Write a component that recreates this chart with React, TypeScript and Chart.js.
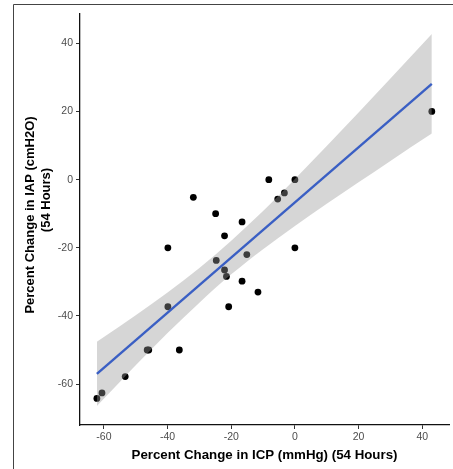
import { useEffect, useRef } from 'react';
import { Chart, registerables } from 'chart.js';

Chart.register(...registerables);

// Observed points: percent change in ICP (x) vs percent change in IAP (y)
const icpChange = [-62.2, -60.6, -53.3, -46.4, -45.9, -39.9, -39.9, -36.3, -31.9, -24.9, -24.7, -22.1, -22.1, -21.5, -20.8, -16.6, -16.6, -15.1, -11.6, -8.2, -5.4, -3.3, 0, 0, 43];
const iapChange = [-64.2, -62.6, -57.8, -50, -50, -37.3, -20, -50, -5.2, -10, -23.7, -16.5, -26.5, -28.4, -37.3, -12.4, -29.8, -22.0, -33.0, 0, -5.7, -3.9, 0, -20, 20];

// Fitted regression line end points
const fitX = [-62.2, 43];
const fitY = [-57.0, 28.1];

// Confidence band
const bandX = [-62.2, -55, -50, -40, -30, -20, -10, 0, 10, 20, 30, 43];
const bandUpper = [-47.6, -43.0, -39.8, -33.1, -25.9, -17.9, -9.2, 0.2, 9.9, 19.7, 29.7, 42.7];
const bandLower = [-66.4, -59.4, -54.5, -45.0, -36.1, -27.8, -20.4, -13.6, -7.1, -0.8, 5.5, 13.5];

const xTicks = [-60, -40, -20, 0, 20, 40];
const yTicks = [-60, -40, -20, 0, 20, 40];

const xTitle = 'Percent Change in ICP (mmHg) (54 Hours)';
const yTitleLines = ['Percent Change in IAP (cmH2O)', '(54 Hours)'];

const FONT = '"Liberation Sans", Arial, Helvetica, sans-serif';

export default function App() {
  const ref = useRef<HTMLCanvasElement | null>(null);

  useEffect(() => {
    document.body.style.margin = '0';
    const canvas = ref.current;
    if (!canvas) return;

    const decor = {
      id: 'decor',
      beforeDraw(chart: any) {
        const ctx = chart.ctx;
        ctx.save();
        ctx.fillStyle = '#ffffff';
        ctx.fillRect(0, 0, chart.width, chart.height);
        ctx.strokeStyle = '#444444';
        ctx.lineWidth = 1;
        ctx.beginPath();
        ctx.moveTo(13.5, chart.height);
        ctx.lineTo(13.5, 4.5);
        ctx.lineTo(chart.width, 4.5);
        ctx.stroke();
        ctx.restore();
      },
      afterDraw(chart: any) {
        const ctx = chart.ctx;
        ctx.save();
        ctx.fillStyle = '#000000';
        ctx.font = `bold 13px ${FONT}`;
        ctx.textAlign = 'center';
        ctx.textBaseline = 'middle';
        ctx.translate(30, 215);
        ctx.rotate(-Math.PI / 2);
        ctx.fillText(yTitleLines[0], 0, 0);
        ctx.restore();
        ctx.save();
        ctx.fillStyle = '#000000';
        ctx.font = `bold 13px ${FONT}`;
        ctx.textAlign = 'center';
        ctx.textBaseline = 'middle';
        ctx.translate(46, 200);
        ctx.rotate(-Math.PI / 2);
        ctx.fillText(yTitleLines[1], 0, 0);
        ctx.restore();
      },
    };

    const points = icpChange.map((x, i) => ({ x, y: iapChange[i] }));
    const fit = fitX.map((x, i) => ({ x, y: fitY[i] }));
    const upper = bandX.map((x, i) => ({ x, y: bandUpper[i] }));
    const lower = bandX.map((x, i) => ({ x, y: bandLower[i] }));

    const chart = new Chart(canvas, {
      type: 'scatter',
      data: {
        datasets: [
          {
            type: 'scatter',
            data: points,
            backgroundColor: '#000000',
            borderWidth: 0,
            pointRadius: 3.4,
            order: 3,
          },
          {
            type: 'line',
            data: upper,
            showLine: true,
            borderWidth: 0,
            borderColor: 'rgba(0,0,0,0)',
            pointRadius: 0,
            fill: '+1',
            backgroundColor: 'rgba(153,153,153,0.4)',
            cubicInterpolationMode: 'monotone',
            order: 2,
          },
          {
            type: 'line',
            data: lower,
            showLine: true,
            borderWidth: 0,
            borderColor: 'rgba(0,0,0,0)',
            pointRadius: 0,
            fill: false,
            cubicInterpolationMode: 'monotone',
            order: 2,
          },
          {
            type: 'line',
            data: fit,
            showLine: true,
            borderColor: '#3a5fc4',
            borderWidth: 2.4,
            pointRadius: 0,
            fill: false,
            order: 1,
          },
        ],
      } as any,
      options: {
        responsive: false,
        animation: false,
        devicePixelRatio: 1,
        layout: { padding: { top: 14, right: 1, left: 0, bottom: 0 } },
        plugins: {
          legend: { display: false },
          tooltip: { enabled: false },
        },
        scales: {
          x: {
            type: 'linear',
            min: -67.5,
            max: 48.4,
            afterBuildTicks: (scale: any) => {
              scale.ticks = xTicks.map((v) => ({ value: v }));
            },
            afterFit: (scale: any) => {
              scale.height = 44;
            },
            grid: {
              display: true,
              drawOnChartArea: false,
              drawTicks: true,
              tickLength: 4,
              color: '#333333',
              lineWidth: 1,
            },
            border: { display: true, color: '#111111', width: 1.3 },
            ticks: {
              color: '#4d4d4d',
              font: { family: FONT, size: 10.5 },
              padding: 2,
              maxRotation: 0,
            },
            title: {
              display: true,
              text: xTitle,
              color: '#000000',
              font: { family: FONT, size: 13.3, weight: 'bold' },
              padding: { top: 0, bottom: 6 },
            },
          },
          y: {
            type: 'linear',
            min: -72,
            max: 48.6,
            afterBuildTicks: (scale: any) => {
              scale.ticks = yTicks.map((v) => ({ value: v }));
            },
            afterFit: (scale: any) => {
              scale.width = 80;
            },
            grid: {
              display: true,
              drawOnChartArea: false,
              drawTicks: true,
              tickLength: 4,
              color: '#333333',
              lineWidth: 1,
            },
            border: { display: true, color: '#111111', width: 1.3 },
            ticks: {
              color: '#4d4d4d',
              font: { family: FONT, size: 10.5 },
              padding: 3,
            },
          },
        },
      } as any,
      plugins: [decor],
    });

    return () => chart.destroy();
  }, []);

  return (
    <div style={{ width: 453, height: 469, position: 'relative' }}>
      <canvas ref={ref} width={453} height={469} style={{ display: 'block' }} />
    </div>
  );
}
